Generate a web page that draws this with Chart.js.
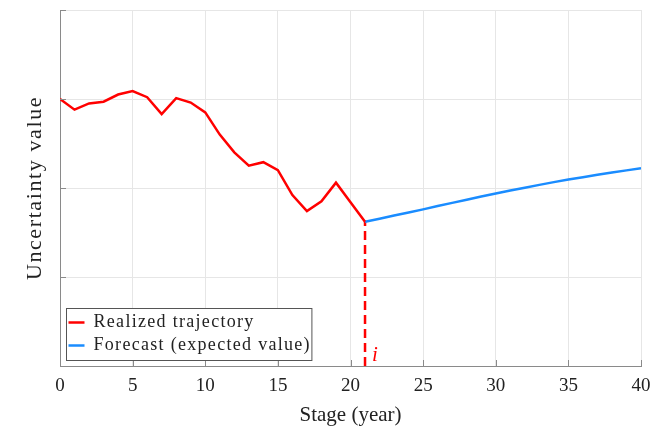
<!DOCTYPE html>
<html>
<head>
<meta charset="utf-8">
<script src="https://cdn.jsdelivr.net/npm/chart.js@4"></script>
<style>
  html, body { margin: 0; padding: 0; background: #fff; }
  #wrap { width: 661px; height: 428px; }
</style>
</head>
<body>
<div id="wrap"><canvas id="uncChart" width="661" height="428"></canvas></div>
<script>
// stages (years) and uncertainty values
const realizedStages = [0, 1, 2, 3, 4, 5, 6, 7, 8, 9, 10, 11, 12, 13, 14, 15, 16, 17, 18, 19, 20, 21];
const realizedValues = [3.00, 2.88, 2.95, 2.97, 3.05, 3.09, 3.02, 2.83, 3.01, 2.96, 2.85, 2.60,
                        2.40, 2.25, 2.29, 2.20, 1.92, 1.74, 1.85, 2.06, 1.84, 1.62];
const forecastStages = [21, 22, 23, 24, 25, 26, 27, 28, 29, 30, 31, 32, 33, 34, 35, 36, 37, 38, 39, 40];
const forecastValues = [1.62, 1.654, 1.690, 1.725, 1.760, 1.797, 1.833, 1.869, 1.904, 1.938,
                        1.971, 2.003, 2.035, 2.066, 2.095, 2.122, 2.149, 2.174, 2.198, 2.222];
const xTicks = [0, 5, 10, 15, 20, 25, 30, 35, 40];
const yGrid = [0, 1, 2, 3, 4];
const splitStage = 21;
const yTitle = "Uncertainty value";

const serif = "'Liberation Serif', 'DejaVu Serif', serif";

const toPoints = (xs, ys) => xs.map((x, i) => ({ x: x, y: ys[i] }));
const splitValue = realizedValues[realizedStages.indexOf(splitStage)];

// -----------------------------
// inward tick marks, y title, legend box and the "i" marker
// -----------------------------
const extras = {
  id: "extras",
  afterDatasetsDraw(chart) {
    const ctx = chart.ctx;
    const xs = chart.scales.x;
    const ys = chart.scales.y;
    const area = chart.chartArea;

    ctx.save();
    ctx.strokeStyle = "#8a8a8a";
    ctx.lineWidth = 1;
    xTicks.forEach(v => {
      const px = Math.round(xs.getPixelForValue(v)) + 0.5;
      ctx.beginPath();
      ctx.moveTo(px, area.bottom);
      ctx.lineTo(px, area.bottom - 6);
      ctx.stroke();
    });
    yGrid.forEach(v => {
      const py = Math.round(ys.getPixelForValue(v)) + 0.5;
      ctx.beginPath();
      ctx.moveTo(area.left, py);
      ctx.lineTo(area.left + 6, py);
      ctx.stroke();
    });

    // rotated y title, slightly spaced out
    ctx.save();
    ctx.translate(35, (area.top + area.bottom) / 2);
    ctx.rotate(-Math.PI / 2);
    ctx.font = "22px " + serif;
    ctx.letterSpacing = "1.6px";
    ctx.fillStyle = "#222222";
    ctx.textAlign = "center";
    ctx.textBaseline = "middle";
    ctx.fillText(yTitle, 0, 0);
    ctx.restore();

    // "i" next to the split line
    ctx.fillStyle = "#ff0000";
    ctx.font = "italic 21px " + serif;
    ctx.textBaseline = "alphabetic";
    ctx.textAlign = "left";
    ctx.fillText("i", xs.getPixelForValue(splitStage) + 7, area.bottom - 5);

    // legend
    const items = chart.data.datasets.filter(d => d.label);
    ctx.font = "18px " + serif;
    ctx.letterSpacing = "1.3px";
    const textW = Math.max(...items.map(d => ctx.measureText(d.label).width));
    const bx = area.left + 6.5;
    const bh = 52;
    const by = area.bottom - 6 - bh + 0.5;
    const bw = 27 + textW + 1;
    ctx.fillStyle = "#ffffff";
    ctx.fillRect(bx, by, bw, bh);
    ctx.strokeStyle = "#555555";
    ctx.lineWidth = 1;
    ctx.strokeRect(bx, by, bw, bh);
    items.forEach((d, i) => {
      const cy = by + 14 + i * 23;
      ctx.strokeStyle = d.borderColor;
      ctx.lineWidth = 2.5;
      ctx.beginPath();
      ctx.moveTo(bx + 2, cy);
      ctx.lineTo(bx + 18, cy);
      ctx.stroke();
      ctx.fillStyle = "#222222";
      ctx.textBaseline = "middle";
      ctx.fillText(d.label, bx + 27, cy);
    });
    ctx.restore();
  }
};

new Chart(document.getElementById("uncChart"), {
  type: "line",
  data: {
    datasets: [
      {
        label: "Realized trajectory",
        data: toPoints(realizedStages, realizedValues),
        borderColor: "#ff0000",
        borderWidth: 2.5,
        pointRadius: 0,
        tension: 0
      },
      {
        label: "Forecast (expected value)",
        data: toPoints(forecastStages, forecastValues),
        borderColor: "#1a8cff",
        borderWidth: 2.5,
        pointRadius: 0,
        tension: 0
      },
      {
        data: [{ x: splitStage, y: 0 }, { x: splitStage, y: splitValue }],
        borderColor: "#ff0000",
        borderWidth: 2.5,
        borderDash: [9, 5],
        pointRadius: 0
      }
    ]
  },
  options: {
    responsive: false,
    animation: false,
    layout: { padding: { top: 10, right: 20, left: 0, bottom: 0 } },
    plugins: {
      legend: { display: false },
      tooltip: { enabled: false }
    },
    scales: {
      x: {
        type: "linear",
        min: 0,
        max: 40,
        afterFit: s => { s.height = 62; },
        afterBuildTicks: s => { s.ticks = xTicks.map(v => ({ value: v })); },
        grid: { color: "#e6e6e6", drawTicks: false },
        border: { color: "#8a8a8a", width: 1 },
        ticks: {
          padding: 9,
          color: "#222222",
          font: { family: serif, size: 19 }
        },
        title: {
          display: true,
          text: "Stage (year)",
          color: "#222222",
          font: { family: serif, size: 21 },
          padding: { top: 0, bottom: 0 }
        }
      },
      y: {
        type: "linear",
        min: 0,
        max: 4,
        afterFit: s => { s.width = 60; },
        afterBuildTicks: s => { s.ticks = yGrid.map(v => ({ value: v })); },
        grid: { color: "#e6e6e6", drawTicks: false },
        border: { color: "#8a8a8a", width: 1 },
        ticks: { display: false }
      }
    }
  },
  plugins: [extras]
});
</script>
</body>
</html>
